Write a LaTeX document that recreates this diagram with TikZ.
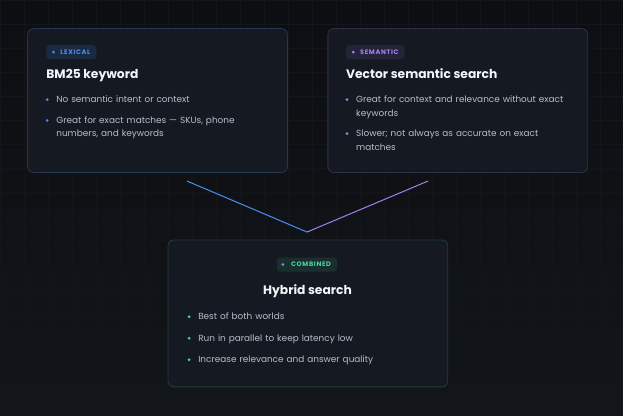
\documentclass[tikz,border=0pt]{standalone}
\usepackage{fontspec}
\setmainfont{Poppins}
\usetikzlibrary{positioning}
\definecolor{bgtop}{HTML}{0C0E12}
\definecolor{bgbot}{HTML}{121519}
\definecolor{gridc}{HTML}{121519}
\definecolor{cardfill}{HTML}{151A22}
\definecolor{lexborder}{HTML}{243650}
\definecolor{semborder}{HTML}{2F2F48}
\definecolor{comborder}{HTML}{1F3D36}
\definecolor{headwhite}{HTML}{F3F5F8}
\definecolor{bodygrey}{HTML}{B7BECA}
\definecolor{lexblue}{HTML}{4A90F0}
\definecolor{sempurple}{HTML}{A282F2}
\definecolor{combgreen}{HTML}{4BD4A2}
\definecolor{combdot}{HTML}{7D8CF2}
\definecolor{lextag}{HTML}{1B2A40}
\definecolor{semtag}{HTML}{252338}
\definecolor{combtag}{HTML}{1A2F2D}

\begin{document}
\begin{tikzpicture}[x=1pt, y=-1pt,
    card/.style={draw, line width=0.8pt, rounded corners=6pt, fill=cardfill, anchor=north west, inner sep=0pt},
    tag/.style={fill=#1, rounded corners=3pt, minimum height=14pt, inner xsep=6pt, inner ysep=0pt,
        font=\fontsize{6.5}{7}\selectfont\bfseries\addfontfeature{LetterSpace=10}},
    heading/.style={text=headwhite, inner sep=0pt, font=\fontsize{12.3}{15}\selectfont\bfseries},
    item/.style={text=bodygrey, inner sep=0pt, anchor=base west, align=left, text width=#1,
        font=\fontsize{8.9}{13.3}\selectfont},
    pip/.style={circle, fill=#1, inner sep=0pt, minimum size=3pt},
    wire/.style={line width=1pt}
]
    % Background
    \shade[top color=bgtop, bottom color=bgbot] (0,0) rectangle (623,416);
    \draw[gridc, line width=0.4pt, step=24pt] (0,0) grid (623,416);
    \useasboundingbox (0,0) rectangle (623,416);

    % Cards
    \node[card, draw=lexborder, minimum width=260pt, minimum height=144pt] (lex) at (27,28) {};
    \node[card, draw=semborder, minimum width=260pt, minimum height=144pt] (sem) at (327.5,28) {};
    \node[card, draw=comborder, minimum width=280pt, minimum height=147pt] (comb) at (167.5,239.5) {};

    % Lexical card
    \node[tag=lextag, anchor=west, text=lexblue] (lextag) at (46,52) {\hspace*{8pt}LEXICAL};
    \node[pip=lexblue] (lexpip) at (53.3,52) {};
    \node[heading, anchor=base west] (lextitle) at (46,78.5) {BM25 keyword};
    \node[item=220pt] (lexa) at (56,102.7) {No semantic intent or context};
    \node[item=220pt] (lexb) at (56,123.5) {Great for exact matches — SKUs, phone\\numbers, and keywords};
    \node[pip=lexblue] at (47,99.5) {};
    \node[pip=lexblue] at (47,120.3) {};

    % Semantic card
    \node[tag=semtag, anchor=west, text=sempurple] (semtag) at (346,52) {\hspace*{8pt}SEMANTIC};
    \node[pip=sempurple] (sempip) at (353.3,52) {};
    \node[heading, anchor=base west] (semtitle) at (346,78.5) {Vector semantic search};
    \node[item=225pt] (sema) at (356,102.7) {Great for context and relevance without exact\\keywords};
    \node[item=225pt] (semb) at (356,136.7) {Slower; not always as accurate on exact\\matches};
    \node[pip=sempurple] at (347,99.5) {};
    \node[pip=sempurple] at (347,133.5) {};

    % Combined card
    \node[tag=combtag, text=combgreen] (combtag) at (307,264.5) {\hspace*{8pt}COMBINED};
    \node[pip=combdot, right=6pt of combtag.west, anchor=center] (combpip) {};
    \node[heading, anchor=base] (combtitle) at (307.5,294) {Hybrid search};
    \node[item=230pt] (comba) at (198,320) {Best of both worlds};
    \node[item=230pt] (combb) at (198,341.5) {Run in parallel to keep latency low};
    \node[item=230pt] (combc) at (198,363) {Increase relevance and answer quality};
    \node[pip=combgreen] at (189,316.8) {};
    \node[pip=combgreen] at (189,338.3) {};
    \node[pip=combgreen] at (189,359.8) {};

    % Links
    \coordinate (lexfoot) at (187,181);
    \coordinate (semfoot) at (428,181);
    \coordinate (merge) at (307,232);
    \draw[wire, lexblue] (lexfoot) -- (merge);
    \draw[wire, sempurple] (semfoot) -- (merge);
\end{tikzpicture}
\end{document}
